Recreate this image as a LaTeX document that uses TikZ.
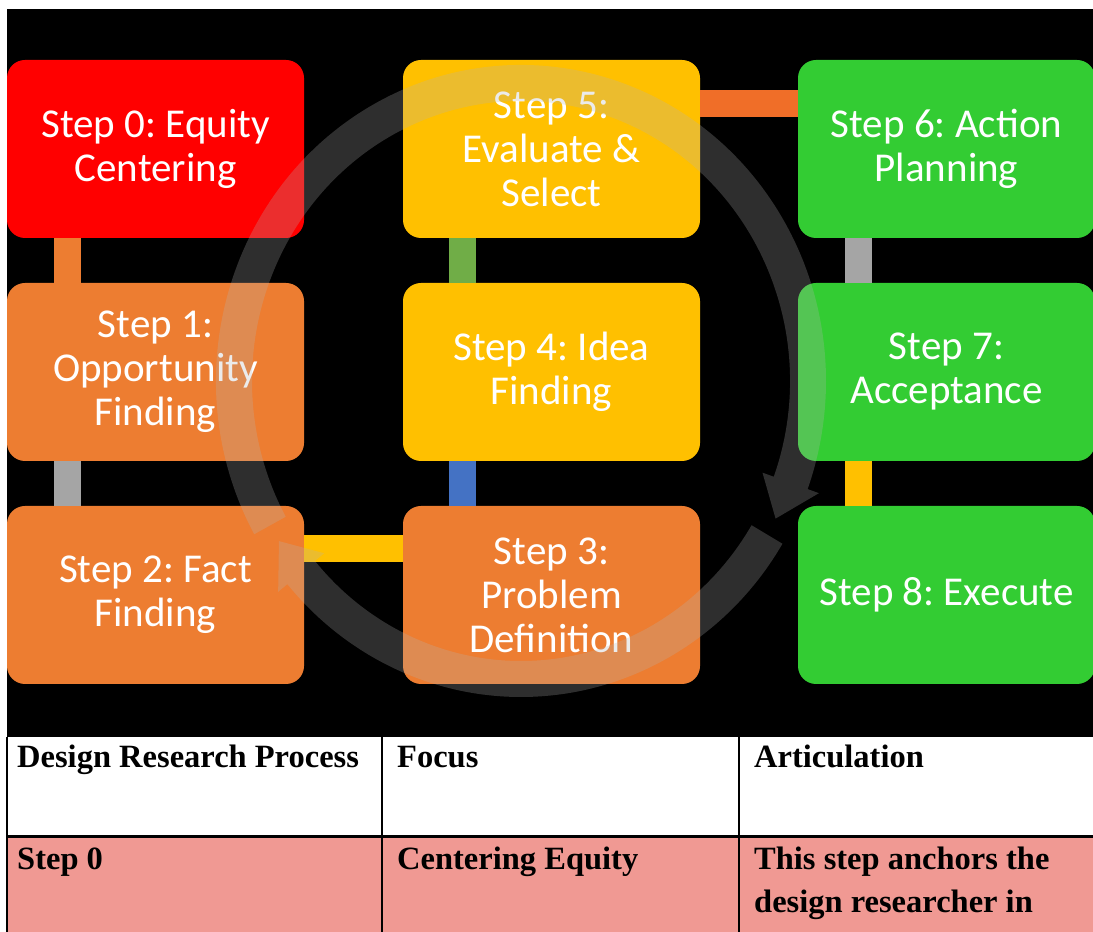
\documentclass[tikz,border=0pt]{standalone}
\usepackage{fontspec}
\setmainfont{Liberation Serif}
\newfontfamily\boxfont{Carlito}
\usetikzlibrary{calc}
\definecolor{cRed}{RGB}{255,0,0}
\definecolor{cOrange}{RGB}{237,125,49}
\definecolor{cYellow}{RGB}{255,192,0}
\definecolor{cGreen}{RGB}{51,204,51}
\definecolor{cGray}{RGB}{165,165,165}
\definecolor{cBlue}{RGB}{68,114,196}
\definecolor{cLeaf}{RGB}{112,173,71}
\definecolor{cOrangeR}{RGB}{240,110,40}
\definecolor{cRing}{RGB}{180,180,180}
\definecolor{cPink}{RGB}{240,153,147}
\frenchspacing
\begin{document}
\begin{tikzpicture}[x=1pt,y=1pt,
  stepbox/.style={rounded corners=18pt, minimum width=297pt, minimum height=178pt,
    inner sep=0pt, outer sep=0pt, align=center, text=white,
    font=\boxfont\fontsize{41}{44}\selectfont},
  link/.style={line width=27pt},
  ring/.style={fill=cRing, fill opacity=0.26},
  cell/.style={anchor=base west, inner sep=0pt, font=\bfseries\fontsize{32.5}{43}\selectfont},
  rule/.style={line width=2pt, draw=black}]
\useasboundingbox (0,0) rectangle (1093,932);
\fill[white] (0,0) rectangle (1093,932);
\fill[black] (7,195) rectangle (1093,923);

% step boxes
\node[stepbox, fill=cRed]    (s0) at (155.5,783) {Step 0: Equity\\Centering};
\node[stepbox, fill=cOrange] (s1) at (155.5,560) {Step 1:\\Opportunity\\Finding};
\node[stepbox, fill=cOrange] (s2) at (155.5,337) {Step 2: Fact\\Finding};
\node[stepbox, fill=cOrange] (s3) at (551.5,337) {Step 3:\\Problem\\Definition};
\node[stepbox, fill=cYellow] (s4) at (551.5,560) {Step 4: Idea\\Finding};
\node[stepbox, fill=cYellow] (s5) at (551.5,783) {Step 5:\\Evaluate \&\\Select};
\node[stepbox, fill=cGreen]  (s6) at (946.5,783) {Step 6: Action\\Planning};
\node[stepbox, fill=cGreen]  (s7) at (946.5,560) {Step 7:\\Acceptance};
\node[stepbox, fill=cGreen]  (s8) at (946.5,337) {Step 8: Execute};

% connectors
\draw[link, cOrange]  ([xshift=60pt]s0.south west) -- ([xshift=60pt]s1.north west);
\draw[link, cGray]    ([xshift=60pt]s1.south west) -- ([xshift=60pt]s2.north west);
\draw[link, cYellow]  ([yshift=-43pt]s2.north east) -- ([yshift=-43pt]s3.north west);
\draw[link, cBlue]    ([xshift=59.5pt]s3.north west) -- ([xshift=59.5pt]s4.south west);
\draw[link, cLeaf]    ([xshift=59.5pt]s4.north west) -- ([xshift=59.5pt]s5.south west);
\draw[link, cOrangeR] ([yshift=-43.5pt]s5.north east) -- ([yshift=-43.5pt]s6.north west);
\draw[link, cGray]    ([xshift=60pt]s6.south west) -- ([xshift=60pt]s7.north west);
\draw[link, cYellow]  ([xshift=60pt]s7.south west) -- ([xshift=60pt]s8.north west);

% circular arrows
\coordinate (C) at (521,551);
\fill[ring] ($(C)+(209:305 and 316)$)
  arc[start angle=209, end angle=-20, x radius=305, y radius=316]
  -- ($(C)+(-20:317 and 328)$) -- ($(C)+(-27.5:287 and 298)$)
  -- ($(C)+(-20:257 and 268)$) -- ($(C)+(-20:269 and 280)$)
  arc[start angle=-20, end angle=209, x radius=269, y radius=280] -- cycle;
\fill[ring] ($(C)+(-31:305 and 316)$)
  arc[start angle=-31, end angle=-140, x radius=305, y radius=316]
  -- ($(C)+(-140:317 and 328)$) -- ($(C)+(-147.5:287 and 298)$)
  -- ($(C)+(-140:257 and 268)$) -- ($(C)+(-140:269 and 280)$)
  arc[start angle=-140, end angle=-31, x radius=269, y radius=280] -- cycle;

% table
\fill[cPink] (7,0) rectangle (1093,95);
\draw[line width=3pt] (7,95) -- (1093,95);
\draw[rule] (7,0) -- (7,195);
\draw[rule] (382,0) -- (382,195);
\draw[rule] (739,0) -- (739,195);
\node[cell] (h1) at (17,164) {Design Research Process};
\node[cell] (h2) at (397,164) {Focus};
\node[cell] (h3) at (754,164) {Articulation};
\node[cell] (r1) at (17,62) {Step 0};
\node[cell] (r2) at (397,62) {Centering Equity};
\node[cell] (r3) at (754,62) {This step anchors the};
\node[cell] (r3b) at (754,19) {design researcher in};
\end{tikzpicture}
\end{document}
